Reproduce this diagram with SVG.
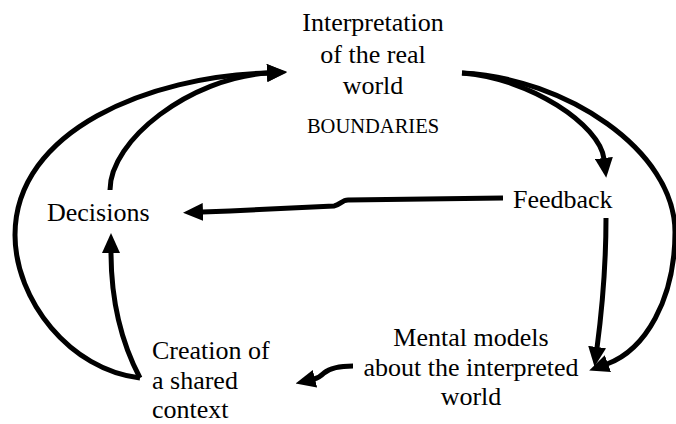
<svg xmlns="http://www.w3.org/2000/svg" width="676" height="424" viewBox="0 0 676 424">
<defs>
<marker id="ah" viewBox="0 0 20 18" refX="1" refY="9" markerWidth="20" markerHeight="18" markerUnits="userSpaceOnUse" orient="auto">
<path d="M0,0 L20,9 L0,18 z" fill="#000"/>
</marker>
<style>
text{font-family:'Liberation Serif','Times New Roman',Tinos,serif;font-size:26px;fill:#000}
.s{font-size:20.5px}
.c{text-anchor:middle}
.e{fill:none;stroke:#000;stroke-width:5;stroke-linecap:butt;marker-end:url(#ah)}
</style>
</defs>
<rect width="676" height="424" fill="#fff"/>
<g id="connectors">
<path class="e" d="M110,190 C110,140 190,78 268,73"/>
<path class="e" d="M140,378 C70,370 15,300 15,235 C15,130 150,76 268,73"/>
<path class="e" d="M140,378 C120,340 111,300 111,252"/>
<path class="e" d="M503,198 L348,200 C342,200 340,205 334,206 L230,211 L202,212"/>
<path class="e" d="M462,73 C530,78 600,125 604,159"/>
<path class="e" d="M462,73 C565,78 675,150 675,232 C675,300 645,350 607,364"/>
<path class="e" d="M606,218 C606,270 602,310 597,348"/>
<path class="e" d="M353,366 C338,366 330,368 324,373 C320,377 318,378 314,379"/>
</g>
<g id="interpretation">
<text class="c" x="373" y="31">Interpretation</text>
<text class="c" x="373" y="63">of the real</text>
<text class="c" x="373" y="94">world</text>
<text class="s c" x="373" y="133">BOUNDARIES</text>
</g>
<g id="decisions">
<text x="47" y="221">Decisions</text>
</g>
<g id="feedback">
<text x="513" y="208">Feedback</text>
</g>
<g id="mental-models">
<text class="c" x="471" y="346">Mental models</text>
<text class="c" x="471" y="375.5">about the interpreted</text>
<text class="c" x="471" y="405">world</text>
</g>
<g id="creation">
<text x="152" y="359">Creation of</text>
<text x="152" y="388.5">a shared</text>
<text x="152" y="418">context</text>
</g>
</svg>
